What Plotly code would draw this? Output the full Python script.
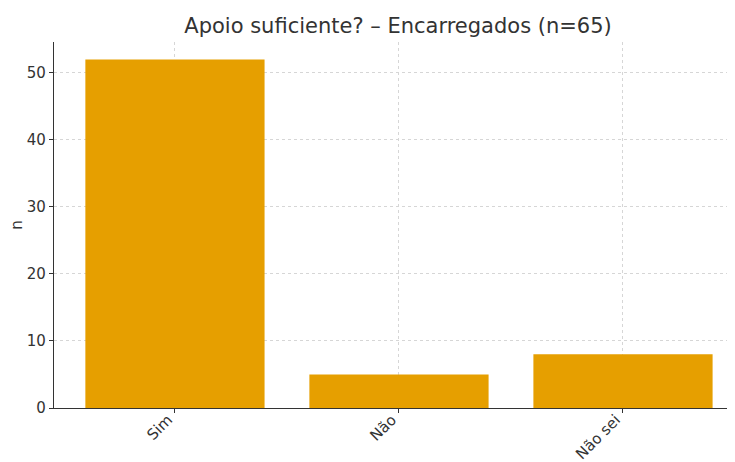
import plotly.graph_objects as go

categories = ["Sim", "Não", "Não sei"]
values = [52, 5, 8]
title_text = "Apoio suficiente? – Encarregados (n=65)"
y_ticks = [0, 10, 20, 30, 40, 50]

fig = go.Figure(go.Bar(
    x=list(range(len(categories))), y=values,
    marker=dict(color="#E69F00", line=dict(width=0)),
    width=0.8,
))

font_family = "DejaVu Sans"
# page body has an 8px default margin; compensate so the plot lands where the reference has it
fig.update_layout(
    width=727, height=454,
    margin=dict(l=46, r=0, t=34, b=54),
    plot_bgcolor="white", paper_bgcolor="white",
    font=dict(family=font_family, color="#333333"),
    title=dict(text=title_text, x=0.5365, xanchor="center", y=0.9615, yanchor="middle",
               font=dict(size=21, family=font_family, color="#333333")),
    showlegend=False,
)
fig.update_xaxes(
    range=[-0.54, 2.50], automargin=False,
    tickmode="array", tickvals=list(range(len(categories))), ticktext=categories,
    tickangle=-45, tickfont=dict(size=15),
    ticklabelstandoff=-8, ticklabelshift=-7,
    showgrid=True, gridcolor="#d6d6d6", griddash="3px,3px", gridwidth=0.8,
    showline=True, linecolor="#333333", linewidth=1.2,
    ticks="outside", ticklen=4, tickcolor="#333333",
    zeroline=False,
)
fig.update_yaxes(
    range=[0, 54.6], automargin=False,
    tickvals=y_ticks, tickfont=dict(size=15),
    title=dict(text="n", font=dict(size=15), standoff=10),
    showgrid=True, gridcolor="#d6d6d6", griddash="3px,3px", gridwidth=0.8,
    showline=True, linecolor="#333333", linewidth=1.2,
    ticks="outside", ticklen=4, tickcolor="#333333",
    zeroline=False,
)
fig.write_html("out.html")
